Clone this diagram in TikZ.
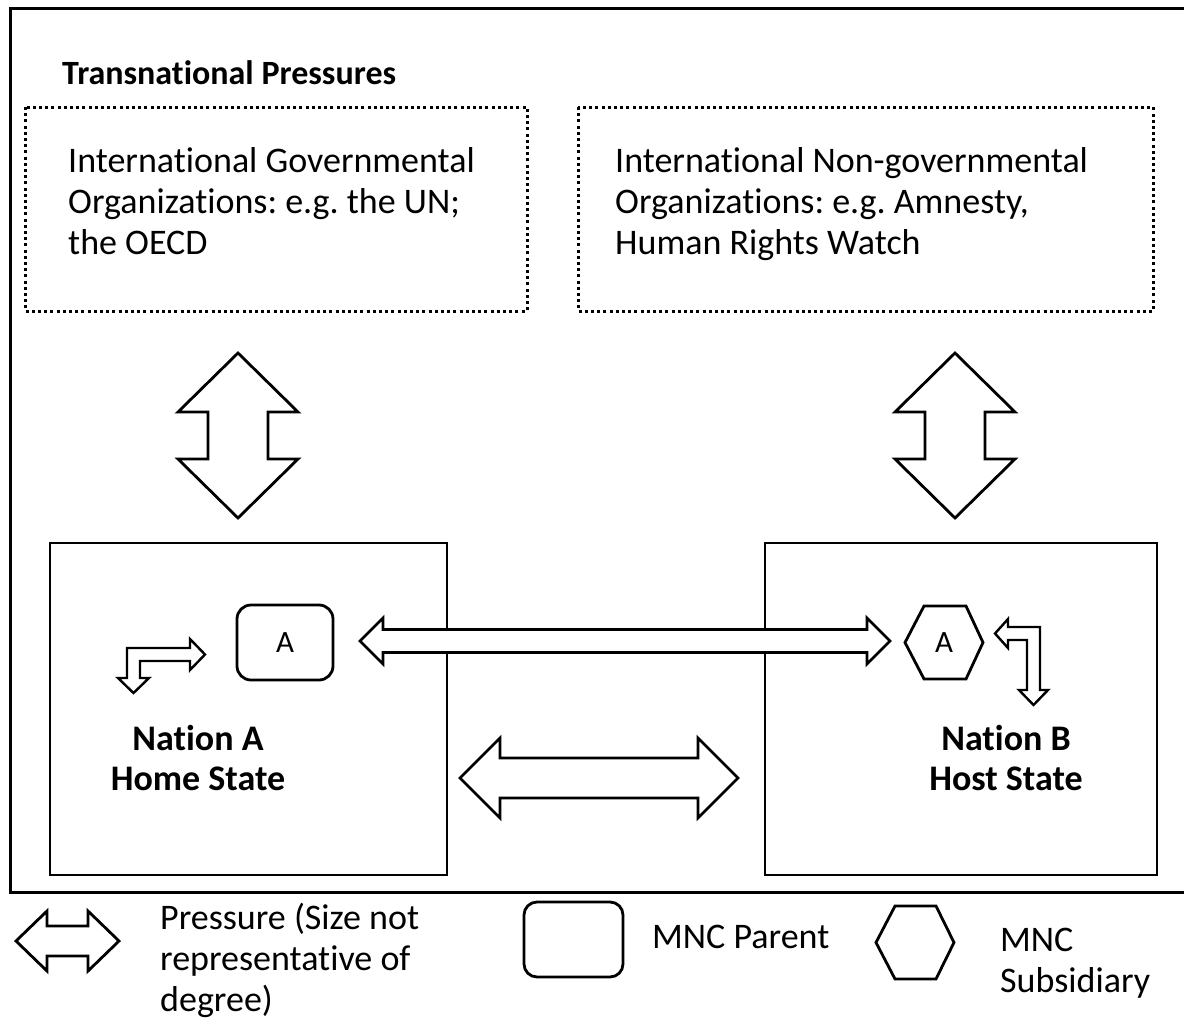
\documentclass[tikz,border=0pt]{standalone}
\usepackage{fontspec}
\setmainfont{Carlito}[Ligatures={NoCommon,NoContextual}, Contextuals={NoAlternate}]
\frenchspacing
\newcommand{\hdblarrow}[6]{% left tip x, right tip x, centre y, head length, head half, shaft half
  \draw[blockarrow] (#1,#3) -- (#1+#4,#3-#5) -- (#1+#4,#3-#6) -- (#2-#4,#3-#6) -- (#2-#4,#3-#5) -- (#2,#3)
    -- (#2-#4,#3+#5) -- (#2-#4,#3+#6) -- (#1+#4,#3+#6) -- (#1+#4,#3+#5) -- cycle;}
\newcommand{\vdblarrow}[6]{% centre x, top tip y, bottom tip y, head length, head half, shaft half
  \draw[blockarrow] (#1,#2) -- (#1+#5,#2+#4) -- (#1+#6,#2+#4) -- (#1+#6,#3-#4) -- (#1+#5,#3-#4) -- (#1,#3)
    -- (#1-#5,#3-#4) -- (#1-#6,#3-#4) -- (#1-#6,#2+#4) -- (#1-#5,#2+#4) -- cycle;}
\begin{document}
\begin{tikzpicture}[x=1pt,y=-1pt,
  blockarrow/.style={draw=black, line width=2.8pt, fill=white, line join=miter},
  bentarrow/.style={draw=black, line width=2.4pt, fill=white, line join=miter},
  nationbox/.style={draw=black, line width=1.6pt},
  orgbox/.style={draw=black, line width=3pt, dash pattern=on 3pt off 3.2pt},
  parentshape/.style={draw=black, line width=2.8pt, rounded corners=14pt},
  hexshape/.style={draw=black, line width=2.8pt, line join=miter},
  bodytext/.style={inner sep=0pt, font=\fontsize{36}{41}\selectfont},
  boldtext/.style={inner sep=0pt, font=\fontsize{36}{40}\bfseries\selectfont},
  letter/.style={inner sep=0pt, font=\fontsize{31}{36}\selectfont}]
\useasboundingbox (0,0) rectangle (1184,1026);
\fill[white] (0,0) rectangle (1184,1026);

% outer frame (open on the right, cut by the picture edge)
\draw[line width=3pt] (1190,8) -- (10,8) -- (10,892) -- (1190,892);

% title
\node[anchor=base west, inner sep=0pt, font=\fontsize{34}{40}\bfseries\selectfont] (title) at (62,84) {Transnational Pressures};

% transnational organisation boxes
\draw[orgbox] (25,107) rectangle (527,311);
\node[bodytext, anchor=base west] (igotext) at (68,172)
  {\begin{tabular}[t]{@{}l@{}}International Governmental\\Organizations: e.g. the UN;\\the OECD\end{tabular}};
\draw[orgbox] (578,107) rectangle (1153,311);
\node[bodytext, anchor=base west] (ingotext) at (615,172)
  {\begin{tabular}[t]{@{}l@{}}International Non-governmental\\Organizations: e.g. Amnesty,\\Human Rights Watch\end{tabular}};

% vertical pressures
\vdblarrow{238}{353}{518}{59}{60}{30}
\vdblarrow{955}{353}{518}{59}{60}{30}

% nation boxes
\draw[nationbox] (50,543) rectangle (447,875);
\draw[nationbox] (765,543) rectangle (1157,875);
\node[boldtext, anchor=base] (natA) at (198,750)
  {\begin{tabular}[t]{@{}c@{}}Nation A\\Home State\end{tabular}};
\node[boldtext, anchor=base] (natB) at (1006,750)
  {\begin{tabular}[t]{@{}c@{}}Nation B\\Host State\end{tabular}};

% MNC parent and subsidiary
\node[parentshape, minimum width=96pt, minimum height=75pt, inner sep=0pt] (parent) at (285,642.5) {};
\node[letter] (parentA) at (parent.center) {A};
\draw[hexshape] (905,642.5) -- (924,606) -- (966,606) -- (983,642.5) -- (966,679) -- (924,679) -- cycle;
\node[letter] (subA) at (944,642.5) {A};

% parent -- subsidiary pressure
\hdblarrow{360}{890}{641}{23}{23}{11.5}

% nation -- nation pressure
\hdblarrow{460}{738}{778}{40}{40}{20}

% bent arrow, home state
\draw[bentarrow] (133.5,693) -- (149,678) -- (140,678) -- (140,661) -- (190,661) -- (190,670) -- (205,654.5)
  -- (190,639) -- (190,648) -- (127,648) -- (127,678) -- (118,678) -- cycle;

% bent arrow, host state
\draw[bentarrow] (995,633.5) -- (1008,619) -- (1008,627) -- (1040,627) -- (1040,690) -- (1048,690) -- (1033.5,705)
  -- (1019,690) -- (1027,690) -- (1027,640) -- (1008,640) -- (1008,648) -- cycle;

% legend
\hdblarrow{16}{119}{941}{31}{30}{15}
\node[bodytext, anchor=base west] (legpress) at (160,929)
  {\begin{tabular}[t]{@{}l@{}}Pressure (Size not\\representative of\\degree)\end{tabular}};
\node[parentshape, minimum width=99pt, minimum height=75pt, inner sep=0pt, rounded corners=13pt] (legparent) at (573.5,939.5) {};
\node[bodytext, anchor=base west] (legparenttext) at (652,948) {MNC Parent};
\draw[hexshape] (876,942.5) -- (895,906) -- (936,906) -- (954,942.5) -- (936,979) -- (895,979) -- cycle;
\node[bodytext, anchor=base west] (leghextext) at (1000,951)
  {\begin{tabular}[t]{@{}l@{}}MNC\\Subsidiary\end{tabular}};
\end{tikzpicture}
\end{document}
